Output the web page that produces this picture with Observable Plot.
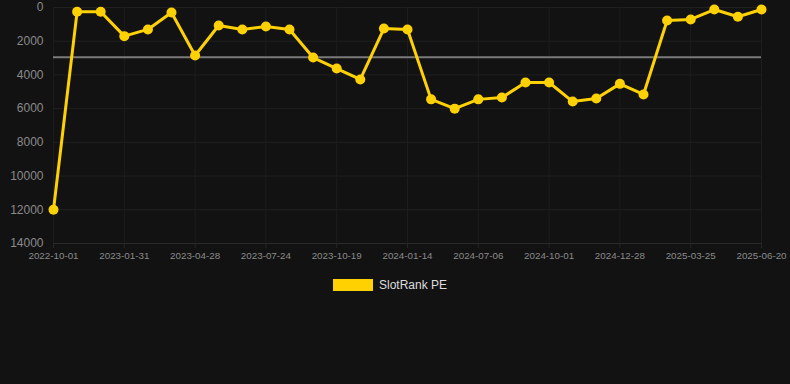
<!DOCTYPE html>
<html><head><meta charset="utf-8">
<script src="https://cdn.jsdelivr.net/npm/d3@7"></script>
<script src="https://cdn.jsdelivr.net/npm/@observablehq/plot@0.6"></script>
<style>
html,body{margin:0;padding:0;background:#121212;}
#wrap{width:790px;height:384px;background:#121212;font-family:"Liberation Sans",Arial,sans-serif;}
.legend{display:flex;justify-content:center;align-items:center;margin-top:8px;padding-right:10px;}
.sw{width:40px;height:12px;background:#FFD100;margin-right:6px;}
.lt{color:#dddddd;font-size:12px;}
</style></head>
<body><div id="wrap"></div>
<script>
const dates = ["2022-10-01","2022-11-10","2022-12-21","2023-01-31","2023-03-01","2023-03-30","2023-04-28","2023-05-27","2023-06-25","2023-07-24","2023-08-22","2023-09-20","2023-10-19","2023-11-17","2023-12-16","2024-01-14","2024-03-12","2024-05-09","2024-07-06","2024-08-04","2024-09-02","2024-10-01","2024-10-30","2024-11-29","2024-12-28","2025-01-26","2025-02-24","2025-03-25","2025-04-23","2025-05-22","2025-06-20"];
const ranks = [12000,250,250,1700,1300,300,2850,1070,1300,1130,1300,2970,3620,4270,1250,1300,5450,6000,5450,5340,4450,4450,5580,5400,4530,5160,770,710,120,550,120];
const average = 2950;
const yTicks = [0,2000,4000,6000,8000,10000,12000,14000];
const xTicks = dates.filter((d,i)=>i%3===0);
const seriesName = "SlotRank PE";

const data = dates.map((d,i)=>({date:d, rank:ranks[i]}));
const color = "#FFD100";

const chart = Plot.plot({
  width: 790, height: 270,
  marginLeft: 53, marginRight: 29, marginTop: 7, marginBottom: 27,
  style: {background:"#121212", color:"#8a8a8a", fontFamily:"Liberation Sans, Arial, sans-serif", overflow:"visible"},
  x: {type:"point", domain: dates, padding: 0, round: false, label: null},
  y: {domain:[0,14000], reverse: true, label: null},
  marks: [
    Plot.gridY(yTicks, {stroke:"#202020", strokeOpacity:1}),
    Plot.gridX(xTicks, {stroke:"#1d1d1d", strokeOpacity:1}),
    Plot.ruleY([14000], {stroke:"#2a2a2a"}),
    Plot.axisY(yTicks, {tickSize:0, tickPadding:10, fontSize:12, fill:"#8a8a8a", tickFormat: d3.format("d")}),
    Plot.axisX(xTicks, {tickSize:5, tickPadding:4, fontSize:9.8, fill:"#8a8a8a", stroke:"#262626"}),
    Plot.ruleY([average], {stroke:"#7a7a7a", strokeWidth:2}),
    Plot.line(data, {x:"date", y:"rank", stroke:color, strokeWidth:3}),
    Plot.dot(data, {x:"date", y:"rank", r:5, fill:color, stroke:null})
  ]
});
const wrap = document.getElementById("wrap");
wrap.appendChild(chart);
const leg = document.createElement("div");
leg.className = "legend";
leg.innerHTML = `<div class="sw"></div><span class="lt">${seriesName}</span>`;
wrap.appendChild(leg);
</script></body></html>
